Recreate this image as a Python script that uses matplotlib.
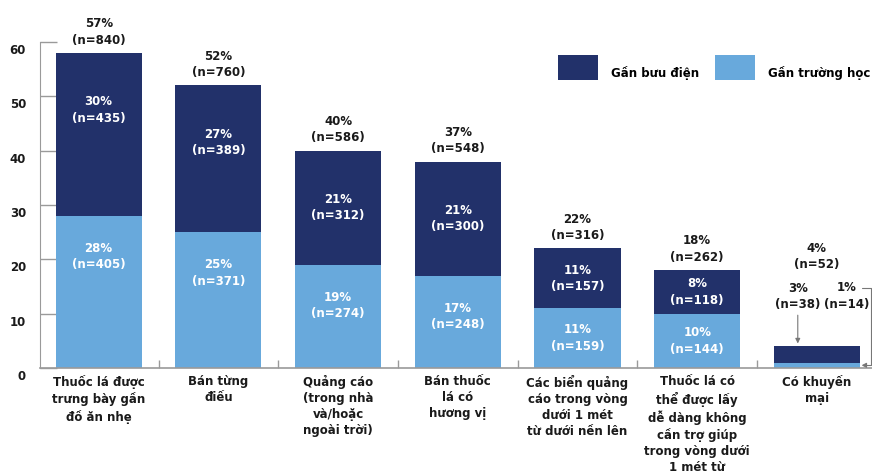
import matplotlib

matplotlib.use("Agg")
import matplotlib.pyplot as plt
import numpy as np
from matplotlib.transforms import ScaledTranslation

categories = [
    "Thuốc lá được\ntrưng bày gần\nđồ ăn nhẹ",
    "Bán từng\nđiếu",
    "Quảng cáo\n(trong nhà\nvà/hoặc\nngoài trời)",
    "Bán thuốc\nlá có\nhương vị",
    "Các biển quảng\ncáo trong vòng\ndưới 1 mét\ntừ dưới nền lên",
    "Thuốc lá có\nthể được lấy\ndễ dàng không\ncần trợ giúp\ntrong vòng dưới\n1 mét từ",
    "Có khuyến\nmại",
]
school_pct = [28, 25, 19, 17, 11, 10, 1]
school_n = [405, 371, 274, 248, 159, 144, 14]
post_pct = [30, 27, 21, 21, 11, 8, 3]
post_n = [435, 389, 312, 300, 157, 118, 38]
total_pct = [57, 52, 40, 37, 22, 18, 4]
total_n = [840, 760, 586, 548, 316, 262, 52]
y_ticks = [0, 10, 20, 30, 40, 50, 60]
series_labels = ["Gần bưu điện", "Gần trường học"]

DARK = "#22316a"
LIGHT = "#68a9dc"
GREY = "#9a9a9a"
INK = "#1a1a1a"
FS = 8.5

plt.rcParams["font.family"] = ["DejaVu Sans"]
plt.rcParams["font.weight"] = "bold"

fig = plt.figure(figsize=(8.72, 4.74), dpi=100)
ax = fig.add_axes([40 / 872, 106 / 474, 832 / 872, 326 / 474])

x = np.arange(len(categories))
width = 0.72
school = np.array(school_pct)
post = np.array(post_pct)
top = school + post

light_bars = ax.bar(x, school, width, color=LIGHT, label=series_labels[1], zorder=2)
dark_bars = ax.bar(x, post, width, bottom=school, color=DARK, label=series_labels[0], zorder=2)

ax.set_xlim(-0.49, 6.46)
ax.set_ylim(0, 60)

# labels inside the segments (the last bar is too thin, it gets callouts)
for i in range(len(categories) - 1):
    y_post = max(school[i] + post[i] / 2, top[i] - 10.5)
    y_school = max(school[i] / 2, school[i] - 7.5)
    ax.text(x[i], y_post, f"{post_pct[i]}%\n(n={post_n[i]})", ha="center", va="center",
            color="white", fontsize=FS, linespacing=1.35, zorder=3)
    ax.text(x[i], y_school, f"{school_pct[i]}%\n(n={school_n[i]})", ha="center", va="center",
            color="white", fontsize=FS, linespacing=1.35, zorder=3)

# totals above the bars
last = len(categories) - 1
for i in range(len(categories)):
    dy = 54 if i == last else 4.5
    ax.annotate(f"{total_pct[i]}%\n(n={total_n[i]})", xy=(x[i], top[i]), xytext=(0, dy),
                textcoords="offset points", ha="center", va="bottom", color=INK,
                fontsize=FS, linespacing=1.35, annotation_clip=False)

# callouts for the last bar
ax.annotate(f"{post_pct[last]}%\n(n={post_n[last]})", xy=(x[last] - 0.16, top[last]),
            xytext=(0, 36), textcoords="offset points", ha="center", va="center",
            color=INK, fontsize=FS, linespacing=1.35, annotation_clip=False,
            arrowprops=dict(arrowstyle="-|>", color="#777777", lw=0.8, mutation_scale=7,
                            relpos=(0.5, 0.0), shrinkA=1, shrinkB=2))
ax.annotate(f"{school_pct[last]}%\n(n={school_n[last]})", xy=(x[last] + width / 2, school[last] / 2),
            xytext=(-9.5, 50), textcoords="offset points", ha="center", va="center",
            color=INK, fontsize=FS, linespacing=1.35, annotation_clip=False,
            arrowprops=dict(arrowstyle="-|>", color="#777777", lw=0.8, mutation_scale=7,
                            relpos=(0.74, 0.78), patchA=None, shrinkA=3, shrinkB=1,
                            connectionstyle="bar,angle=90,fraction=-0.2"))

# axes styling
for side in ["top", "right"]:
    ax.spines[side].set_visible(False)
ax.spines["left"].set_color(GREY)
ax.spines["bottom"].set_color(GREY)
ax.spines["bottom"].set_linewidth(1.2)

ax.set_yticks(y_ticks)
ax.set_yticklabels([str(v) for v in y_ticks])
ax.tick_params(axis="y", direction="in", length=12, width=1, color=GREY, pad=10,
               labelsize=FS, labelcolor=INK)
shift = ScaledTranslation(0, -5 / 72, fig.dpi_scale_trans)
for lab in ax.get_yticklabels():
    lab.set_transform(lab.get_transform() + shift)

ax.set_xticks(x)
ax.set_xticklabels(categories, linespacing=1.3)
ax.set_xticks(x[:-1] + 0.5, minor=True)
ax.tick_params(axis="x", which="major", length=0, pad=5, labelsize=FS, labelcolor=INK)
ax.tick_params(axis="x", which="minor", direction="in", length=6, width=1, color=GREY)

leg = ax.legend(handles=[dark_bars, light_bars], labels=series_labels, ncol=2, loc="upper left",
                bbox_to_anchor=(558 / 872, 1 - 55 / 474), bbox_transform=fig.transFigure,
                frameon=False, borderpad=0, borderaxespad=0, handlelength=3.4,
                handleheight=2.88, handletextpad=1.1, columnspacing=1.35, fontsize=FS)
for t in leg.get_texts():
    t.set_position((0, -6))

fig.savefig("out.png", dpi=100)
